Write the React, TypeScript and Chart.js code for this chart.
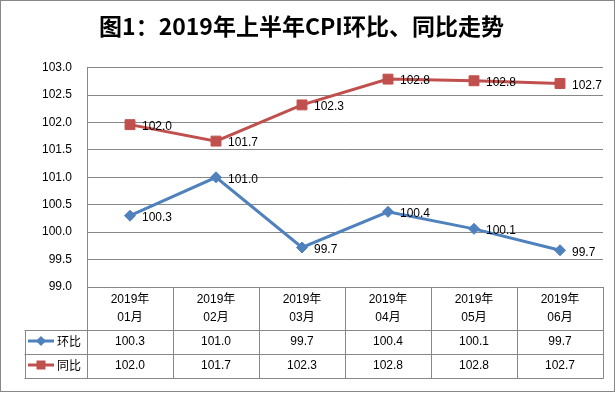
import React, { useEffect, useRef } from "react";
import Chart from "chart.js/auto";

const titleText = "图1：2019年上半年CPI环比、同比走势";
const categories: string[][] = [
  ["2019年", "01月"],
  ["2019年", "02月"],
  ["2019年", "03月"],
  ["2019年", "04月"],
  ["2019年", "05月"],
  ["2019年", "06月"],
];
const seriesNames = ["环比", "同比"];
const momValues = [100.3, 101.0, 99.72, 100.37, 100.06, 99.67];
const yoyValues = [101.96, 101.66, 102.32, 102.79, 102.76, 102.71];
const yMin = 99.0;
const yMax = 103.0;
const yStep = 0.5;

const BLUE = "#4F81BD";
const RED = "#C0504D";
const GRID = "#878787";
const FONT = '"Liberation Sans", "Noto Sans CJK SC", sans-serif';
const CJK = '"Noto Sans CJK SC", "Liberation Sans", sans-serif';

const tablePlugin = {
  id: "cpiTable",
  beforeDraw(chart: any) {
    const ctx = chart.ctx;
    ctx.save();
    ctx.fillStyle = "#fff";
    ctx.fillRect(0, 0, chart.width, chart.height);
    ctx.restore();
  },
  afterDatasetsDraw(chart: any) {
    const ctx = chart.ctx;
    ctx.save();
    ctx.font = `12px ${FONT}`;
    ctx.fillStyle = "#000";
    ctx.textAlign = "left";
    ctx.textBaseline = "middle";
    chart.data.datasets.forEach((ds: any, di: number) => {
      const meta = chart.getDatasetMeta(di);
      meta.data.forEach((pt: any, i: number) => {
        ctx.fillText(Number(ds.data[i]).toFixed(1), pt.x + 12, pt.y + 2);
      });
    });
    ctx.restore();
  },
  afterDraw(chart: any) {
    const ctx = chart.ctx;
    const area = chart.chartArea;
    const xs = chart.scales.x;
    const n = chart.data.labels.length;
    const top = area.bottom;
    const headerBottom = top + 43;
    const row1Bottom = headerBottom + 24;
    const row2Bottom = row1Bottom + 23.5;
    const legendLeft = 24.5;
    const step = (area.right - area.left) / n;
    const al = (v: number) => Math.round(v) + 0.5;

    ctx.save();
    ctx.strokeStyle = GRID;
    ctx.lineWidth = 1;
    ctx.beginPath();
    [headerBottom, row1Bottom, row2Bottom].forEach((y) => {
      ctx.moveTo(legendLeft, al(y));
      ctx.lineTo(al(area.right), al(y));
    });
    for (let i = 0; i <= n; i++) {
      const xe = i === n ? area.right : xs.getPixelForValue(i) - step / 2;
      ctx.moveTo(al(xe), top);
      ctx.lineTo(al(xe), al(row2Bottom));
    }
    ctx.moveTo(al(legendLeft), al(headerBottom));
    ctx.lineTo(al(legendLeft), al(row2Bottom));
    ctx.stroke();
    // outer frame
    ctx.strokeRect(0.5, 0.5, chart.width - 2, chart.height - 3);

    // header labels
    ctx.fillStyle = "#000";
    ctx.textAlign = "center";
    ctx.textBaseline = "middle";
    ctx.font = `12px ${FONT}`;
    chart.data.labels.forEach((lab: string[], i: number) => {
      const cx = xs.getPixelForValue(i);
      ctx.fillText(lab[0], cx, top + 13);
      ctx.fillText(lab[1], cx, top + 31);
    });
    // value rows
    const rowsY = [headerBottom + 12, row1Bottom + 12];
    chart.data.datasets.forEach((ds: any, di: number) => {
      ds.data.forEach((v: number, i: number) => {
        ctx.fillText(Number(v).toFixed(1), xs.getPixelForValue(i), rowsY[di]);
      });
    });
    // legend cells
    chart.data.datasets.forEach((ds: any, di: number) => {
      const y = rowsY[di] - 1;
      ctx.strokeStyle = ds.borderColor;
      ctx.lineWidth = 3;
      ctx.beginPath();
      ctx.moveTo(28, y);
      ctx.lineTo(54, y);
      ctx.stroke();
      ctx.fillStyle = ds.borderColor;
      ctx.beginPath();
      if (di === 0) {
        ctx.moveTo(41, y - 5);
        ctx.lineTo(46, y);
        ctx.lineTo(41, y + 5);
        ctx.lineTo(36, y);
        ctx.closePath();
      } else {
        ctx.rect(36.5, y - 4.5, 9, 9);
      }
      ctx.fill();
      ctx.fillStyle = "#000";
      ctx.textAlign = "left";
      ctx.font = `12px ${CJK}`;
      ctx.fillText(ds.label, 57, y);
    });
    ctx.restore();
  },
};

export default function App() {
  const ref = useRef<HTMLCanvasElement | null>(null);
  useEffect(() => {
    document.body.style.margin = "0";
    if (!ref.current) return;
    const chart = new Chart(ref.current, {
      type: "line",
      data: {
        labels: categories as any,
        datasets: [
          {
            label: seriesNames[0],
            data: momValues,
            borderColor: BLUE,
            backgroundColor: BLUE,
            borderWidth: 3,
            pointStyle: "rectRot",
            pointRadius: 5.5,
            pointBorderWidth: 1,
            tension: 0,
          },
          {
            label: seriesNames[1],
            data: yoyValues,
            borderColor: RED,
            backgroundColor: RED,
            borderWidth: 3,
            pointStyle: "rect",
            pointRadius: 7,
            pointBorderWidth: 1,
            tension: 0,
          },
        ],
      },
      options: {
        responsive: false,
        animation: false,
        devicePixelRatio: 1,
        layout: { padding: { left: 0, right: 13, top: 0, bottom: 0 } },
        plugins: {
          legend: { display: false },
          tooltip: { enabled: false },
          title: {
            display: true,
            text: titleText,
            color: "#000",
            font: { family: CJK, size: 23, weight: "bold" },
            padding: { top: 12, bottom: 28 },
          },
        },
        scales: {
          x: {
            offset: true,
            grid: { display: false },
            border: { display: true, color: GRID },
            ticks: { display: false },
            afterFit: (s: any) => {
              s.height = 107;
            },
          },
          y: {
            min: yMin,
            max: yMax,
            grid: { color: GRID, drawTicks: false },
            border: { display: true, color: GRID },
            ticks: {
              stepSize: yStep,
              padding: 15,
              color: "#000",
              font: { family: FONT, size: 12 },
              callback: (v: any) => Number(v).toFixed(1),
            },
            afterFit: (s: any) => {
              s.width = 87;
            },
          },
        },
      },
      plugins: [tablePlugin],
    });
    return () => chart.destroy();
  }, []);
  return (
    <div>
      <canvas ref={ref} width={616} height={394} style={{ display: "block" }} />
    </div>
  );
}
